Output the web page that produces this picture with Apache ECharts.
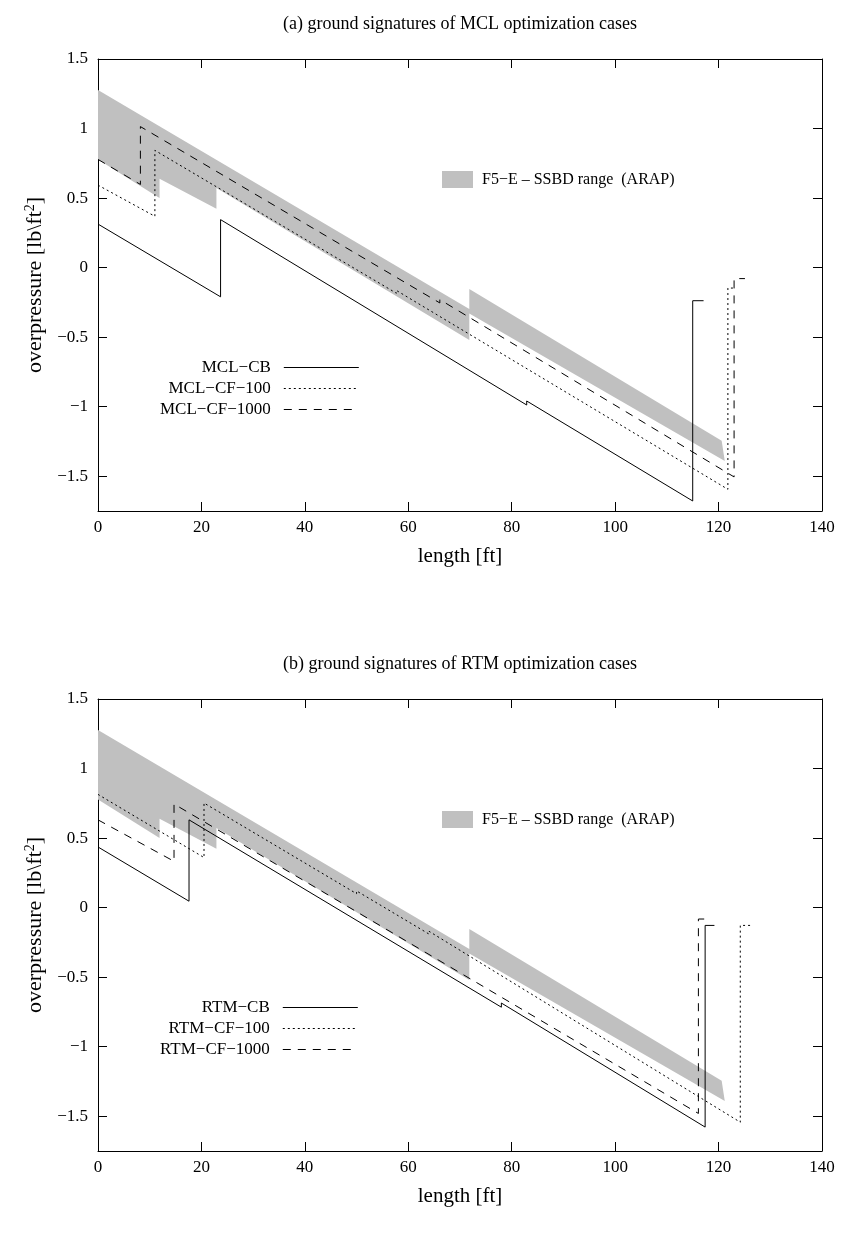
<!DOCTYPE html>
<html>
<head>
<meta charset="utf-8">
<script src="https://cdn.jsdelivr.net/npm/echarts@6/dist/echarts.min.js"></script>
<style>
  html, body { margin: 0; padding: 0; background: #fff; }
  #chart { width: 843px; height: 1237px; }
</style>
</head>
<body>
<div id="chart"></div>
<script>
// ---------- data ----------
const xTicks = [0, 20, 40, 60, 80, 100, 120, 140];
const yTicks = [-1.5, -1, -0.5, 0, 0.5, 1, 1.5];

// F5-E SSBD range (ARAP) band polygon (same reference band in both plots)
const bandX = [0, 71.8, 71.8, 120.6, 121.2, 71.8, 71.8, 22.9, 22.9, 11.9, 11.9, 0];
const bandY = [1.277, -0.297, -0.153, -1.245, -1.39, -0.33, -0.52, 0.573, 0.424, 0.639, 0.501, 0.778];

// (a) MCL cases
const mclCbX = [0, 23.7, 23.7, 82.9, 82.9, 115.0, 115.0, 117.1];
const mclCbY = [0.313, -0.21, 0.345, -0.988, -0.959, -1.678, -0.238, -0.238];
const mclCf100X = [0, 11.0, 11.0, 57.7, 57.7, 121.8, 121.8, 122.9];
const mclCf100Y = [0.593, 0.369, 0.843, -0.184, -0.164, -1.594, -0.147, -0.147];
const mclCf1000X = [0, 8.2, 8.2, 66.1, 66.1, 123.0, 123.0, 125.1];
const mclCf1000Y = [0.778, 0.598, 1.014, -0.254, -0.23, -1.505, -0.079, -0.079];

// (b) RTM cases
const rtmCbX = [0, 17.6, 17.6, 78.0, 78.0, 117.4, 117.4, 119.2];
const rtmCbY = [0.436, 0.046, 0.631, -0.716, -0.686, -1.578, -0.128, -0.128];
const rtmCf100X = [0, 20.5, 20.5, 50.0, 50.0, 64.0, 64.0, 124.2, 124.2, 126.5];
const rtmCf100Y = [0.814, 0.36, 0.752, 0.10, 0.12, -0.19, -0.17, -1.543, -0.128, -0.128];
const rtmCf1000X = [0, 14.7, 14.7, 116.1, 116.1, 118.3];
const rtmCf1000Y = [0.631, 0.333, 0.745, -1.48, -0.082, -0.082];

const titles = ['(a) ground signatures of MCL optimization cases',
                '(b) ground signatures of RTM optimization cases'];
const bandName = 'F5\u2212E \u2013 SSBD range  (ARAP)';
const namesA = ['MCL\u2212CB', 'MCL\u2212CF\u2212100', 'MCL\u2212CF\u22121000'];
const namesB = ['RTM\u2212CB', 'RTM\u2212CF\u2212100', 'RTM\u2212CF\u22121000'];

// ---------- chart ----------
const FONT = "'Liberation Serif', 'Times New Roman', 'DejaVu Serif', serif";
const zip = (xs, ys) => xs.map((x, i) => [x, ys[i]]);
const fmtNum = v => (v < 0 ? '\u2212' + String(-v) : String(v));

const GRID_TOP = [59, 699];
const GRID_H = 452;
const grids = GRID_TOP.map(t => ({ left: 98, top: t, width: 724, height: GRID_H }));

const xAxes = [], yAxes = [];
[0, 1].forEach(g => {
  xAxes.push({
    type: 'value', gridIndex: g, position: 'bottom', min: 0, max: 140, interval: 20,
    name: 'length [ft]', nameLocation: 'middle', nameGap: 35,
    nameTextStyle: { fontFamily: FONT, fontSize: 21, color: '#000' },
    axisLine: { show: true, onZero: false, lineStyle: { color: '#000', width: 1 } },
    axisTick: { show: true, inside: true, length: 9, lineStyle: { color: '#000' } },
    axisLabel: { show: true, margin: 8, fontFamily: FONT, fontSize: 17, color: '#000', formatter: v => fmtNum(v) },
    splitLine: { show: false }
  });
  xAxes.push({
    type: 'value', gridIndex: g, position: 'top', min: 0, max: 140, interval: 20,
    axisLine: { show: true, onZero: false, lineStyle: { color: '#000', width: 1 } },
    axisTick: { show: true, inside: true, length: 9, lineStyle: { color: '#000' } },
    axisLabel: { show: false }, splitLine: { show: false }
  });
  yAxes.push({
    type: 'value', gridIndex: g, position: 'left', min: -1.75, max: 1.5,
    name: 'overpressure [lb\\ft{sup|2}]', nameLocation: 'middle', nameGap: 43, nameRotate: 90,
    nameTextStyle: { fontFamily: FONT, fontSize: 22, color: '#000',
      rich: { sup: { fontFamily: FONT, fontSize: 14, verticalAlign: 'top', padding: [0, 0, 10, 0], color: '#000' } } },
    axisLine: { show: true, onZero: false, lineStyle: { color: '#000', width: 1 } },
    axisTick: { show: true, inside: true, length: 9, customValues: yTicks, lineStyle: { color: '#000' } },
    axisLabel: { show: true, margin: 10, customValues: yTicks, fontFamily: FONT, fontSize: 17, color: '#000', formatter: v => fmtNum(v) },
    splitLine: { show: false }
  });
  yAxes.push({
    type: 'value', gridIndex: g, position: 'right', min: -1.75, max: 1.5,
    axisLine: { show: true, onZero: false, lineStyle: { color: '#000', width: 1 } },
    axisTick: { show: true, inside: true, length: 9, customValues: yTicks, lineStyle: { color: '#000' } },
    axisLabel: { show: false }, splitLine: { show: false }
  });
});

function bandSeries(g) {
  return {
    name: bandName, type: 'custom', xAxisIndex: 2 * g, yAxisIndex: 2 * g,
    data: [[0, 0]], silent: true, z: 1,
    itemStyle: { color: '#c0c0c0' },
    renderItem: (params, api) => ({
      type: 'polygon',
      shape: { points: bandX.map((x, i) => api.coord([x, bandY[i]])) },
      style: { fill: '#c0c0c0', stroke: null }
    })
  };
}
function lineSeries(g, name, xs, ys, type) {
  return {
    name, type: 'line', xAxisIndex: 2 * g, yAxisIndex: 2 * g,
    data: zip(xs, ys), showSymbol: false, symbol: 'none', z: 3,
    lineStyle: { color: '#000', width: 1, type },
    itemStyle: { color: '#000' }
  };
}
const DOT = [2, 3], DASH = [8, 7];

const series = [
  bandSeries(0),
  lineSeries(0, namesA[0], mclCbX, mclCbY, 'solid'),
  lineSeries(0, namesA[1], mclCf100X, mclCf100Y, DOT),
  lineSeries(0, namesA[2], mclCf1000X, mclCf1000Y, DASH),
  bandSeries(1),
  lineSeries(1, namesB[0], rtmCbX, rtmCbY, 'solid'),
  lineSeries(1, namesB[1], rtmCf100X, rtmCf100Y, DOT),
  lineSeries(1, namesB[2], rtmCf1000X, rtmCf1000Y, DASH)
];

function bandLegend(top) {
  return {
    data: [{ name: bandName, icon: 'rect' }], left: 437, top, orient: 'vertical',
    itemWidth: 31, itemHeight: 17, itemGap: 10, selectedMode: false,
    textStyle: { fontFamily: FONT, fontSize: 16, color: '#000', padding: [0, 0, 0, 4] }
  };
}
function lineLegend(names, top) {
  return {
    data: names, left: 155, top, orient: 'vertical', align: 'right',
    itemWidth: 75, itemHeight: 10, itemGap: 4, selectedMode: false,
    itemStyle: { opacity: 0, color: 'rgba(0,0,0,0)', borderWidth: 0 },
    lineStyle: { width: 1 },
    textStyle: { fontFamily: FONT, fontSize: 17, color: '#000', width: 140, align: 'right', padding: [0, 8, 0, 0] }
  };
}

const option = {
  animation: false,
  backgroundColor: '#fff',
  title: titles.map((t, i) => ({
    text: t, left: 455, top: [10, 650][i], textAlign: 'center',
    textStyle: { fontFamily: FONT, fontSize: 18, fontWeight: 'normal', color: '#000' }
  })),
  grid: grids,
  xAxis: xAxes,
  yAxis: yAxes,
  legend: [bandLegend(166), lineLegend(namesA, 354), bandLegend(806), lineLegend(namesB, 994)],
  series
};

const chart = echarts.init(document.getElementById('chart'), null, { renderer: 'canvas' });
chart.setOption(option);
</script>
</body>
</html>
